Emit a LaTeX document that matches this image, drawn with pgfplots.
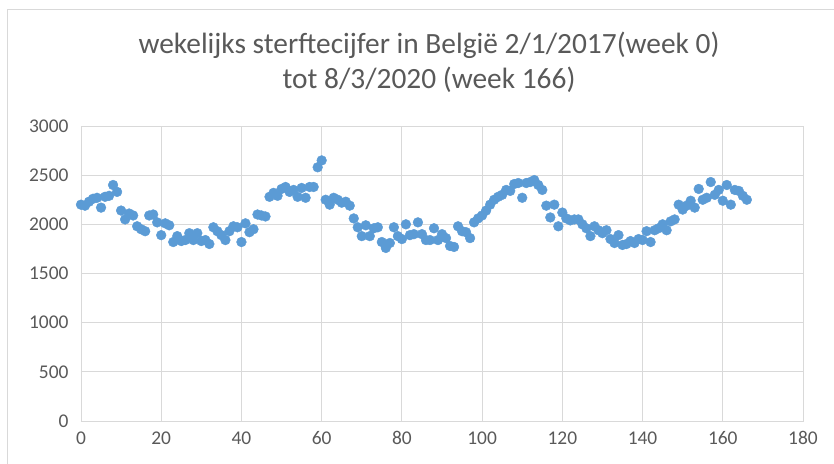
\documentclass[border=0pt]{standalone}
\usepackage{pgfplots}
\pgfplotsset{compat=1.18}
\usepackage{fontspec}
\setmainfont{Carlito}
\definecolor{xlblue}{HTML}{5B9BD5}
\definecolor{txt}{HTML}{595959}
\definecolor{grd}{HTML}{D9D9D9}
\begin{document}
\begin{tikzpicture}
\path[use as bounding box] (-81bp,-43bp) rectangle (753bp,421bp);
\draw[grd, line width=1bp] (-73bp,-43bp) -- (-73bp,411bp) -- (753bp,411bp);
\begin{axis}[
  at={(0,0)}, anchor=south west,
  width=722bp, height=295bp, scale only axis,
  xmin=0, xmax=180, ymin=0, ymax=3000,
  xtick={0,20,...,180}, ytick={0,500,...,3000},
  grid=major, grid style={grd, line width=0.8bp},
  axis line style={grd, line width=0.8bp},
  major tick length=0pt,
  tick label style={text=txt, font=\fontsize{19.5}{22}\selectfont},
  /pgf/number format/assume math mode=true,
  /pgf/number format/set thousands separator={},
  xticklabel style={yshift=-7bp},
  yticklabel style={xshift=-9bp},
]
\addplot[only marks, mark=*, mark size=4.9bp, mark options={fill=xlblue, draw=xlblue}] coordinates {
(0,2200)(1,2190)(2,2230)(3,2260)(4,2270)(5,2170)(6,2280)(7,2290)(8,2400)(9,2330)
(10,2140)(11,2050)(12,2110)(13,2090)(14,1980)(15,1950)(16,1930)(17,2090)(18,2100)(19,2020)
(20,1890)(21,2010)(22,1990)(23,1820)(24,1880)(25,1830)(26,1840)(27,1910)(28,1840)(29,1910)
(30,1830)(31,1840)(32,1800)(33,1970)(34,1930)(35,1890)(36,1840)(37,1930)(38,1980)(39,1970)
(40,1820)(41,2010)(42,1920)(43,1950)(44,2100)(45,2090)(46,2080)(47,2280)(48,2320)(49,2290)
(50,2360)(51,2380)(52,2330)(53,2350)(54,2280)(55,2370)(56,2270)(57,2380)(58,2380)(59,2580)
(60,2650)(61,2250)(62,2200)(63,2270)(64,2250)(65,2220)(66,2230)(67,2190)(68,2060)(69,1970)
(70,1880)(71,1990)(72,1880)(73,1960)(74,1970)(75,1820)(76,1760)(77,1810)(78,1970)(79,1880)
(80,1850)(81,2000)(82,1890)(83,1900)(84,2020)(85,1900)(86,1840)(87,1840)(88,1960)(89,1840)
(90,1900)(91,1860)(92,1780)(93,1770)(94,1980)(95,1930)(96,1920)(97,1860)(98,2020)(99,2060)
(100,2090)(101,2140)(102,2200)(103,2250)(104,2280)(105,2300)(106,2350)(107,2340)(108,2410)(109,2420)
(110,2270)(111,2420)(112,2430)(113,2450)(114,2400)(115,2350)(116,2190)(117,2070)(118,2200)(119,1980)
(120,2120)(121,2060)(122,2040)(123,2050)(124,2050)(125,2000)(126,1960)(127,1880)(128,1980)(129,1940)
(130,1910)(131,1940)(132,1850)(133,1810)(134,1890)(135,1790)(136,1800)(137,1830)(138,1810)(139,1850)
(140,1840)(141,1930)(142,1820)(143,1940)(144,1960)(145,2000)(146,1940)(147,2030)(148,2050)(149,2200)
(150,2150)(151,2190)(152,2240)(153,2170)(154,2360)(155,2250)(156,2270)(157,2430)(158,2300)(159,2350)
(160,2240)(161,2400)(162,2200)(163,2350)(164,2340)(165,2290)(166,2250)
};
\end{axis}
\node[text=txt, font=\fontsize{29.5}{34}\selectfont] at (348bp,376bp) {wekelijks sterftecijfer in België 2/1/2017(week 0)};
\node[text=txt, font=\fontsize{29.5}{34}\selectfont] at (348bp,341bp) {tot 8/3/2020 (week 166)};
\end{tikzpicture}
\end{document}
